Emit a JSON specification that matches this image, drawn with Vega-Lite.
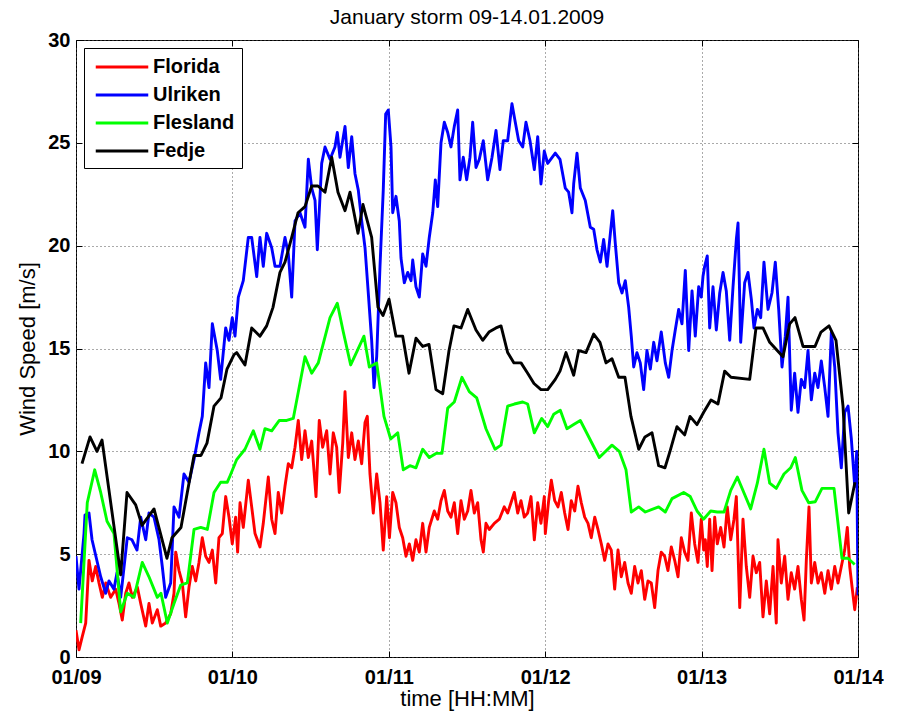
{
"$schema":"https://vega.github.io/schema/vega-lite/v6.json",
"autosize":"none",
"width":782,"height":617,
"padding":{"left":76,"top":40,"right":47,"bottom":58},
"background":"white",
"title":{"text":"January storm 09-14.01.2009","fontSize":21,"fontWeight":"normal","font":"Liberation Sans","color":"#000","offset":2,"anchor":"middle"},
"datasets":{"d":[
{"s":"Florida","t":0,"v":1.3},{"s":"Florida","t":0.46,"v":0.35},{"s":"Florida","t":0.97,"v":1.0},{"s":"Florida","t":1.49,"v":1.65},{"s":"Florida","t":1.99,"v":4.7},{"s":"Florida","t":2.5,"v":3.7},{"s":"Florida","t":3.02,"v":4.4},{"s":"Florida","t":3.53,"v":3.6},{"s":"Florida","t":4.04,"v":2.9},{"s":"Florida","t":4.56,"v":3.6},{"s":"Florida","t":5.32,"v":2.9},{"s":"Florida","t":6.09,"v":3.3},{"s":"Florida","t":6.6,"v":2.6},{"s":"Florida","t":7.1,"v":1.8},{"s":"Florida","t":7.63,"v":3.1},{"s":"Florida","t":8.13,"v":3.6},{"s":"Florida","t":8.64,"v":2.9},{"s":"Florida","t":9.41,"v":3.4},{"s":"Florida","t":9.93,"v":2.6},{"s":"Florida","t":10.7,"v":1.5},{"s":"Florida","t":11.2,"v":2.6},{"s":"Florida","t":11.71,"v":1.65},{"s":"Florida","t":12.48,"v":2.3},{"s":"Florida","t":13.0,"v":1.5},{"s":"Florida","t":13.76,"v":1.65},{"s":"Florida","t":14.53,"v":2.1},{"s":"Florida","t":15.04,"v":3.1},{"s":"Florida","t":15.3,"v":5.1},{"s":"Florida","t":15.81,"v":4.2},{"s":"Florida","t":16.31,"v":3.6},{"s":"Florida","t":16.83,"v":1.95},{"s":"Florida","t":17.34,"v":3.4},{"s":"Florida","t":17.85,"v":4.4},{"s":"Florida","t":18.37,"v":3.7},{"s":"Florida","t":18.87,"v":4.6},{"s":"Florida","t":19.38,"v":5.8},{"s":"Florida","t":19.9,"v":4.9},{"s":"Florida","t":20.41,"v":4.6},{"s":"Florida","t":20.92,"v":5.2},{"s":"Florida","t":21.44,"v":3.6},{"s":"Florida","t":21.94,"v":5.8},{"s":"Florida","t":22.45,"v":6.0},{"s":"Florida","t":22.97,"v":7.8},{"s":"Florida","t":23.48,"v":6.8},{"s":"Florida","t":23.98,"v":5.5},{"s":"Florida","t":24.5,"v":6.8},{"s":"Florida","t":24.8,"v":5.1},{"s":"Florida","t":25.17,"v":7.5},{"s":"Florida","t":25.67,"v":6.3},{"s":"Florida","t":26.44,"v":8.6},{"s":"Florida","t":26.96,"v":7.3},{"s":"Florida","t":27.47,"v":6.0},{"s":"Florida","t":28.23,"v":5.35},{"s":"Florida","t":28.74,"v":6.5},{"s":"Florida","t":29.51,"v":8.75},{"s":"Florida","t":30.03,"v":6.7},{"s":"Florida","t":30.54,"v":6.0},{"s":"Florida","t":31.04,"v":8.0},{"s":"Florida","t":31.56,"v":7.0},{"s":"Florida","t":32.07,"v":8.3},{"s":"Florida","t":32.58,"v":9.4},{"s":"Florida","t":33.1,"v":9.2},{"s":"Florida","t":33.61,"v":10.2},{"s":"Florida","t":34.11,"v":11.5},{"s":"Florida","t":34.63,"v":9.6},{"s":"Florida","t":35.14,"v":11.0},{"s":"Florida","t":35.65,"v":9.7},{"s":"Florida","t":36.17,"v":10.5},{"s":"Florida","t":36.83,"v":7.8},{"s":"Florida","t":37.33,"v":11.5},{"s":"Florida","t":37.85,"v":10.2},{"s":"Florida","t":38.47,"v":11.0},{"s":"Florida","t":38.98,"v":8.9},{"s":"Florida","t":39.48,"v":10.9},{"s":"Florida","t":40.0,"v":10.2},{"s":"Florida","t":40.4,"v":8.0},{"s":"Florida","t":40.93,"v":10.4},{"s":"Florida","t":41.28,"v":12.9},{"s":"Florida","t":41.79,"v":9.7},{"s":"Florida","t":42.31,"v":10.9},{"s":"Florida","t":42.81,"v":9.6},{"s":"Florida","t":43.32,"v":10.5},{"s":"Florida","t":43.84,"v":9.4},{"s":"Florida","t":44.35,"v":11.4},{"s":"Florida","t":44.7,"v":11.7},{"s":"Florida","t":45.11,"v":8.9},{"s":"Florida","t":45.62,"v":7.0},{"s":"Florida","t":46.14,"v":8.9},{"s":"Florida","t":46.65,"v":7.5},{"s":"Florida","t":47.15,"v":5.2},{"s":"Florida","t":47.68,"v":7.8},{"s":"Florida","t":48.1,"v":5.8},{"s":"Florida","t":48.6,"v":8.0},{"s":"Florida","t":49.1,"v":7.5},{"s":"Florida","t":49.61,"v":6.3},{"s":"Florida","t":50.13,"v":5.8},{"s":"Florida","t":50.64,"v":4.9},{"s":"Florida","t":51.15,"v":5.5},{"s":"Florida","t":51.67,"v":4.7},{"s":"Florida","t":52.17,"v":5.7},{"s":"Florida","t":52.68,"v":5.1},{"s":"Florida","t":53.2,"v":6.5},{"s":"Florida","t":53.71,"v":5.1},{"s":"Florida","t":54.21,"v":6.3},{"s":"Florida","t":54.98,"v":7.1},{"s":"Florida","t":55.5,"v":6.7},{"s":"Florida","t":56.01,"v":7.6},{"s":"Florida","t":56.52,"v":8.1},{"s":"Florida","t":57.04,"v":7.1},{"s":"Florida","t":57.54,"v":6.8},{"s":"Florida","t":58.05,"v":7.5},{"s":"Florida","t":58.57,"v":6.0},{"s":"Florida","t":59.08,"v":7.6},{"s":"Florida","t":59.59,"v":6.7},{"s":"Florida","t":60.11,"v":7.1},{"s":"Florida","t":60.61,"v":8.1},{"s":"Florida","t":61.12,"v":7.0},{"s":"Florida","t":61.64,"v":7.5},{"s":"Florida","t":62.15,"v":5.7},{"s":"Florida","t":62.5,"v":5.1},{"s":"Florida","t":62.91,"v":6.5},{"s":"Florida","t":63.42,"v":6.2},{"s":"Florida","t":64.19,"v":6.5},{"s":"Florida","t":64.96,"v":6.7},{"s":"Florida","t":65.72,"v":7.3},{"s":"Florida","t":66.24,"v":7.0},{"s":"Florida","t":66.75,"v":7.5},{"s":"Florida","t":67.26,"v":8.0},{"s":"Florida","t":67.78,"v":7.0},{"s":"Florida","t":68.29,"v":7.6},{"s":"Florida","t":68.79,"v":6.8},{"s":"Florida","t":69.31,"v":7.0},{"s":"Florida","t":69.82,"v":7.8},{"s":"Florida","t":70.33,"v":5.7},{"s":"Florida","t":70.85,"v":7.5},{"s":"Florida","t":71.35,"v":6.5},{"s":"Florida","t":71.86,"v":7.8},{"s":"Florida","t":72.02,"v":6.0},{"s":"Florida","t":72.53,"v":7.6},{"s":"Florida","t":72.94,"v":8.6},{"s":"Florida","t":73.46,"v":7.6},{"s":"Florida","t":73.96,"v":7.3},{"s":"Florida","t":74.47,"v":8.0},{"s":"Florida","t":74.99,"v":7.0},{"s":"Florida","t":75.5,"v":6.2},{"s":"Florida","t":76.0,"v":7.6},{"s":"Florida","t":76.53,"v":7.1},{"s":"Florida","t":77.03,"v":8.3},{"s":"Florida","t":77.54,"v":7.5},{"s":"Florida","t":78.06,"v":6.8},{"s":"Florida","t":78.57,"v":6.5},{"s":"Florida","t":79.07,"v":5.8},{"s":"Florida","t":79.6,"v":6.8},{"s":"Florida","t":80.1,"v":6.2},{"s":"Florida","t":80.61,"v":5.5},{"s":"Florida","t":81.13,"v":4.7},{"s":"Florida","t":81.64,"v":5.5},{"s":"Florida","t":82.14,"v":5.2},{"s":"Florida","t":82.66,"v":3.3},{"s":"Florida","t":83.17,"v":5.2},{"s":"Florida","t":83.68,"v":3.9},{"s":"Florida","t":84.2,"v":4.6},{"s":"Florida","t":84.71,"v":3.6},{"s":"Florida","t":85.21,"v":3.1},{"s":"Florida","t":85.73,"v":4.4},{"s":"Florida","t":86.24,"v":3.6},{"s":"Florida","t":86.75,"v":4.2},{"s":"Florida","t":87.27,"v":2.8},{"s":"Florida","t":87.77,"v":3.7},{"s":"Florida","t":88.28,"v":3.6},{"s":"Florida","t":88.8,"v":2.4},{"s":"Florida","t":89.31,"v":4.2},{"s":"Florida","t":89.81,"v":5.1},{"s":"Florida","t":90.33,"v":4.9},{"s":"Florida","t":90.84,"v":4.2},{"s":"Florida","t":91.35,"v":5.35},{"s":"Florida","t":91.87,"v":4.7},{"s":"Florida","t":92.38,"v":3.9},{"s":"Florida","t":92.89,"v":5.8},{"s":"Florida","t":93.4,"v":5.1},{"s":"Florida","t":93.91,"v":4.7},{"s":"Florida","t":94.42,"v":7.0},{"s":"Florida","t":94.94,"v":5.5},{"s":"Florida","t":95.45,"v":4.6},{"s":"Florida","t":95.95,"v":6.7},{"s":"Florida","t":96.32,"v":5.2},{"s":"Florida","t":96.57,"v":5.7},{"s":"Florida","t":96.87,"v":4.4},{"s":"Florida","t":97.24,"v":6.7},{"s":"Florida","t":97.6,"v":4.2},{"s":"Florida","t":98.01,"v":6.8},{"s":"Florida","t":98.41,"v":5.5},{"s":"Florida","t":98.93,"v":6.3},{"s":"Florida","t":99.44,"v":5.35},{"s":"Florida","t":99.94,"v":7.3},{"s":"Florida","t":100.47,"v":5.7},{"s":"Florida","t":100.97,"v":6.7},{"s":"Florida","t":101.33,"v":7.8},{"s":"Florida","t":101.85,"v":2.4},{"s":"Florida","t":102.35,"v":6.7},{"s":"Florida","t":102.86,"v":4.4},{"s":"Florida","t":103.38,"v":2.9},{"s":"Florida","t":103.89,"v":4.9},{"s":"Florida","t":104.39,"v":4.1},{"s":"Florida","t":104.91,"v":4.6},{"s":"Florida","t":105.42,"v":1.95},{"s":"Florida","t":105.93,"v":3.7},{"s":"Florida","t":106.45,"v":2.1},{"s":"Florida","t":106.96,"v":4.4},{"s":"Florida","t":107.46,"v":1.65},{"s":"Florida","t":107.72,"v":5.7},{"s":"Florida","t":108.23,"v":3.6},{"s":"Florida","t":108.75,"v":4.9},{"s":"Florida","t":109.26,"v":2.8},{"s":"Florida","t":109.76,"v":4.1},{"s":"Florida","t":110.28,"v":3.3},{"s":"Florida","t":110.79,"v":4.4},{"s":"Florida","t":111.3,"v":2.8},{"s":"Florida","t":111.72,"v":1.8},{"s":"Florida","t":112.07,"v":4.7},{"s":"Florida","t":112.48,"v":7.3},{"s":"Florida","t":112.84,"v":3.6},{"s":"Florida","t":113.36,"v":4.6},{"s":"Florida","t":113.86,"v":3.6},{"s":"Florida","t":114.37,"v":4.1},{"s":"Florida","t":114.9,"v":3.1},{"s":"Florida","t":115.4,"v":4.2},{"s":"Florida","t":115.91,"v":3.3},{"s":"Florida","t":116.43,"v":4.4},{"s":"Florida","t":116.93,"v":3.6},{"s":"Florida","t":117.44,"v":4.4},{"s":"Florida","t":117.96,"v":5.2},{"s":"Florida","t":118.36,"v":6.3},{"s":"Florida","t":118.73,"v":4.4},{"s":"Florida","t":119.09,"v":3.4},{"s":"Florida","t":119.5,"v":2.3},{"s":"Florida","t":119.9,"v":3.4},
{"s":"Ulriken","t":0,"v":4.9},{"s":"Ulriken","t":0.46,"v":3.3},{"s":"Ulriken","t":1.23,"v":6.0},{"s":"Ulriken","t":1.38,"v":6.9},{"s":"Ulriken","t":1.99,"v":7.0},{"s":"Ulriken","t":2.46,"v":5.7},{"s":"Ulriken","t":3.79,"v":3.9},{"s":"Ulriken","t":4.56,"v":3.1},{"s":"Ulriken","t":5.06,"v":3.7},{"s":"Ulriken","t":5.83,"v":3.3},{"s":"Ulriken","t":6.29,"v":4.1},{"s":"Ulriken","t":6.86,"v":2.9},{"s":"Ulriken","t":7.87,"v":5.8},{"s":"Ulriken","t":8.59,"v":5.7},{"s":"Ulriken","t":9.36,"v":5.2},{"s":"Ulriken","t":9.93,"v":6.8},{"s":"Ulriken","t":10.7,"v":5.7},{"s":"Ulriken","t":11.2,"v":7.0},{"s":"Ulriken","t":11.97,"v":6.8},{"s":"Ulriken","t":12.74,"v":5.7},{"s":"Ulriken","t":13.24,"v":4.4},{"s":"Ulriken","t":13.76,"v":2.9},{"s":"Ulriken","t":14.53,"v":3.6},{"s":"Ulriken","t":15.04,"v":7.3},{"s":"Ulriken","t":15.81,"v":6.8},{"s":"Ulriken","t":16.57,"v":8.9},{"s":"Ulriken","t":17.34,"v":8.5},{"s":"Ulriken","t":18.11,"v":9.6},{"s":"Ulriken","t":18.87,"v":10.9},{"s":"Ulriken","t":19.38,"v":11.7},{"s":"Ulriken","t":19.9,"v":14.3},{"s":"Ulriken","t":20.41,"v":13.1},{"s":"Ulriken","t":20.92,"v":16.2},{"s":"Ulriken","t":21.68,"v":14.9},{"s":"Ulriken","t":22.2,"v":13.5},{"s":"Ulriken","t":22.97,"v":16.0},{"s":"Ulriken","t":23.48,"v":15.4},{"s":"Ulriken","t":23.98,"v":16.5},{"s":"Ulriken","t":24.4,"v":15.6},{"s":"Ulriken","t":24.91,"v":17.5},{"s":"Ulriken","t":25.67,"v":18.3},{"s":"Ulriken","t":26.44,"v":20.4},{"s":"Ulriken","t":26.96,"v":20.4},{"s":"Ulriken","t":27.73,"v":18.5},{"s":"Ulriken","t":28.23,"v":20.4},{"s":"Ulriken","t":28.74,"v":19.0},{"s":"Ulriken","t":29.26,"v":20.6},{"s":"Ulriken","t":30.03,"v":19.9},{"s":"Ulriken","t":30.54,"v":19.0},{"s":"Ulriken","t":31.3,"v":19.0},{"s":"Ulriken","t":32.07,"v":20.4},{"s":"Ulriken","t":32.58,"v":19.6},{"s":"Ulriken","t":33.1,"v":17.5},{"s":"Ulriken","t":33.61,"v":21.2},{"s":"Ulriken","t":34.37,"v":21.6},{"s":"Ulriken","t":35.14,"v":20.9},{"s":"Ulriken","t":35.65,"v":24.2},{"s":"Ulriken","t":36.17,"v":22.8},{"s":"Ulriken","t":36.68,"v":22.2},{"s":"Ulriken","t":37.03,"v":19.8},{"s":"Ulriken","t":37.7,"v":24.0},{"s":"Ulriken","t":38.21,"v":24.8},{"s":"Ulriken","t":38.98,"v":24.2},{"s":"Ulriken","t":39.74,"v":24.8},{"s":"Ulriken","t":40.1,"v":25.5},{"s":"Ulriken","t":40.51,"v":24.3},{"s":"Ulriken","t":41.28,"v":25.8},{"s":"Ulriken","t":41.79,"v":23.8},{"s":"Ulriken","t":42.31,"v":25.3},{"s":"Ulriken","t":42.81,"v":23.5},{"s":"Ulriken","t":43.32,"v":22.7},{"s":"Ulriken","t":43.84,"v":21.2},{"s":"Ulriken","t":44.35,"v":19.9},{"s":"Ulriken","t":44.85,"v":17.7},{"s":"Ulriken","t":45.37,"v":15.4},{"s":"Ulriken","t":45.73,"v":13.1},{"s":"Ulriken","t":46.14,"v":14.6},{"s":"Ulriken","t":46.65,"v":19.0},{"s":"Ulriken","t":47.15,"v":22.7},{"s":"Ulriken","t":47.52,"v":26.4},{"s":"Ulriken","t":47.92,"v":26.6},{"s":"Ulriken","t":48.34,"v":24.8},{"s":"Ulriken","t":48.6,"v":21.6},{"s":"Ulriken","t":49.1,"v":22.4},{"s":"Ulriken","t":49.61,"v":21.2},{"s":"Ulriken","t":49.87,"v":19.4},{"s":"Ulriken","t":50.38,"v":18.2},{"s":"Ulriken","t":50.9,"v":18.7},{"s":"Ulriken","t":51.41,"v":18.3},{"s":"Ulriken","t":51.67,"v":19.3},{"s":"Ulriken","t":52.17,"v":18.0},{"s":"Ulriken","t":52.68,"v":17.5},{"s":"Ulriken","t":53.2,"v":19.6},{"s":"Ulriken","t":53.71,"v":19.0},{"s":"Ulriken","t":54.21,"v":20.4},{"s":"Ulriken","t":54.74,"v":21.6},{"s":"Ulriken","t":55.14,"v":23.2},{"s":"Ulriken","t":55.5,"v":21.9},{"s":"Ulriken","t":56.01,"v":25.0},{"s":"Ulriken","t":56.52,"v":26.0},{"s":"Ulriken","t":57.04,"v":25.5},{"s":"Ulriken","t":57.54,"v":24.8},{"s":"Ulriken","t":58.05,"v":25.8},{"s":"Ulriken","t":58.57,"v":26.6},{"s":"Ulriken","t":58.92,"v":23.2},{"s":"Ulriken","t":59.43,"v":24.3},{"s":"Ulriken","t":59.95,"v":23.2},{"s":"Ulriken","t":60.46,"v":24.3},{"s":"Ulriken","t":60.87,"v":26.0},{"s":"Ulriken","t":61.38,"v":23.8},{"s":"Ulriken","t":61.89,"v":24.2},{"s":"Ulriken","t":62.5,"v":25.1},{"s":"Ulriken","t":63.17,"v":23.2},{"s":"Ulriken","t":63.84,"v":24.3},{"s":"Ulriken","t":64.45,"v":25.6},{"s":"Ulriken","t":65.06,"v":23.7},{"s":"Ulriken","t":65.57,"v":25.1},{"s":"Ulriken","t":66.24,"v":25.1},{"s":"Ulriken","t":66.9,"v":26.9},{"s":"Ulriken","t":67.41,"v":26.0},{"s":"Ulriken","t":67.93,"v":25.1},{"s":"Ulriken","t":68.55,"v":24.8},{"s":"Ulriken","t":69.05,"v":26.0},{"s":"Ulriken","t":69.67,"v":25.1},{"s":"Ulriken","t":70.33,"v":23.7},{"s":"Ulriken","t":70.85,"v":25.3},{"s":"Ulriken","t":71.35,"v":23.0},{"s":"Ulriken","t":71.86,"v":24.6},{"s":"Ulriken","t":72.38,"v":24.0},{"s":"Ulriken","t":73.55,"v":24.5},{"s":"Ulriken","t":74.27,"v":24.2},{"s":"Ulriken","t":75.08,"v":22.8},{"s":"Ulriken","t":75.6,"v":22.6},{"s":"Ulriken","t":76.11,"v":21.6},{"s":"Ulriken","t":76.37,"v":23.0},{"s":"Ulriken","t":76.88,"v":24.5},{"s":"Ulriken","t":77.39,"v":22.8},{"s":"Ulriken","t":78.15,"v":22.2},{"s":"Ulriken","t":78.92,"v":20.9},{"s":"Ulriken","t":79.44,"v":20.8},{"s":"Ulriken","t":79.95,"v":19.8},{"s":"Ulriken","t":80.46,"v":19.2},{"s":"Ulriken","t":80.97,"v":20.3},{"s":"Ulriken","t":81.49,"v":19.0},{"s":"Ulriken","t":82.0,"v":20.6},{"s":"Ulriken","t":82.36,"v":21.7},{"s":"Ulriken","t":82.76,"v":20.1},{"s":"Ulriken","t":83.28,"v":18.2},{"s":"Ulriken","t":83.79,"v":17.7},{"s":"Ulriken","t":84.29,"v":18.3},{"s":"Ulriken","t":84.81,"v":17.0},{"s":"Ulriken","t":85.21,"v":15.6},{"s":"Ulriken","t":85.58,"v":14.1},{"s":"Ulriken","t":86.08,"v":14.8},{"s":"Ulriken","t":86.59,"v":14.3},{"s":"Ulriken","t":87.11,"v":13.0},{"s":"Ulriken","t":87.61,"v":14.9},{"s":"Ulriken","t":88.13,"v":14.0},{"s":"Ulriken","t":88.65,"v":15.3},{"s":"Ulriken","t":89.15,"v":14.4},{"s":"Ulriken","t":89.81,"v":15.8},{"s":"Ulriken","t":90.43,"v":14.3},{"s":"Ulriken","t":90.95,"v":13.6},{"s":"Ulriken","t":91.46,"v":14.9},{"s":"Ulriken","t":91.96,"v":15.9},{"s":"Ulriken","t":92.48,"v":16.9},{"s":"Ulriken","t":92.99,"v":16.2},{"s":"Ulriken","t":93.5,"v":18.8},{"s":"Ulriken","t":94.02,"v":14.9},{"s":"Ulriken","t":94.53,"v":17.8},{"s":"Ulriken","t":95.03,"v":15.6},{"s":"Ulriken","t":95.55,"v":18.0},{"s":"Ulriken","t":95.95,"v":17.5},{"s":"Ulriken","t":96.21,"v":18.5},{"s":"Ulriken","t":96.47,"v":19.0},{"s":"Ulriken","t":96.87,"v":19.5},{"s":"Ulriken","t":97.24,"v":16.0},{"s":"Ulriken","t":97.75,"v":18.0},{"s":"Ulriken","t":98.26,"v":15.9},{"s":"Ulriken","t":98.78,"v":17.7},{"s":"Ulriken","t":99.29,"v":18.7},{"s":"Ulriken","t":99.79,"v":17.8},{"s":"Ulriken","t":100.31,"v":15.4},{"s":"Ulriken","t":100.82,"v":18.0},{"s":"Ulriken","t":101.33,"v":20.3},{"s":"Ulriken","t":101.59,"v":21.1},{"s":"Ulriken","t":102.0,"v":15.3},{"s":"Ulriken","t":102.61,"v":18.2},{"s":"Ulriken","t":103.12,"v":18.7},{"s":"Ulriken","t":103.63,"v":17.4},{"s":"Ulriken","t":104.04,"v":16.0},{"s":"Ulriken","t":104.55,"v":16.9},{"s":"Ulriken","t":105.07,"v":16.5},{"s":"Ulriken","t":105.57,"v":19.2},{"s":"Ulriken","t":106.19,"v":16.9},{"s":"Ulriken","t":106.8,"v":17.7},{"s":"Ulriken","t":107.31,"v":19.2},{"s":"Ulriken","t":107.83,"v":16.9},{"s":"Ulriken","t":108.34,"v":14.1},{"s":"Ulriken","t":108.84,"v":15.6},{"s":"Ulriken","t":109.26,"v":17.5},{"s":"Ulriken","t":109.76,"v":12.0},{"s":"Ulriken","t":110.28,"v":13.8},{"s":"Ulriken","t":110.79,"v":11.9},{"s":"Ulriken","t":111.3,"v":13.5},{"s":"Ulriken","t":111.82,"v":13.1},{"s":"Ulriken","t":112.33,"v":14.9},{"s":"Ulriken","t":112.84,"v":12.5},{"s":"Ulriken","t":113.36,"v":13.8},{"s":"Ulriken","t":113.86,"v":13.1},{"s":"Ulriken","t":114.37,"v":14.4},{"s":"Ulriken","t":114.9,"v":13.1},{"s":"Ulriken","t":115.4,"v":11.7},{"s":"Ulriken","t":115.91,"v":15.8},{"s":"Ulriken","t":116.43,"v":14.1},{"s":"Ulriken","t":116.93,"v":10.9},{"s":"Ulriken","t":117.44,"v":9.2},{"s":"Ulriken","t":117.96,"v":11.9},{"s":"Ulriken","t":118.47,"v":12.2},{"s":"Ulriken","t":118.98,"v":10.6},{"s":"Ulriken","t":119.5,"v":8.3},{"s":"Ulriken","t":119.8,"v":10.0},{"s":"Ulriken","t":120,"v":3.0},
{"s":"Flesland","t":0.72,"v":1.65},{"s":"Flesland","t":1.73,"v":7.5},{"s":"Flesland","t":2.87,"v":9.1},{"s":"Flesland","t":3.79,"v":8.0},{"s":"Flesland","t":4.76,"v":6.6},{"s":"Flesland","t":5.83,"v":6.0},{"s":"Flesland","t":6.86,"v":2.2},{"s":"Flesland","t":7.87,"v":3.1},{"s":"Flesland","t":8.9,"v":2.9},{"s":"Flesland","t":10.17,"v":4.6},{"s":"Flesland","t":11.2,"v":3.9},{"s":"Flesland","t":12.48,"v":2.9},{"s":"Flesland","t":13.04,"v":3.1},{"s":"Flesland","t":14.01,"v":1.65},{"s":"Flesland","t":15.04,"v":2.6},{"s":"Flesland","t":16.07,"v":3.5},{"s":"Flesland","t":17.08,"v":3.6},{"s":"Flesland","t":18.11,"v":6.2},{"s":"Flesland","t":19.14,"v":6.3},{"s":"Flesland","t":20.15,"v":6.2},{"s":"Flesland","t":21.18,"v":8.0},{"s":"Flesland","t":22.2,"v":8.5},{"s":"Flesland","t":23.22,"v":8.5},{"s":"Flesland","t":23.63,"v":8.8},{"s":"Flesland","t":24.66,"v":9.6},{"s":"Flesland","t":25.93,"v":10.1},{"s":"Flesland","t":27.21,"v":11.0},{"s":"Flesland","t":28.23,"v":10.1},{"s":"Flesland","t":29.0,"v":11.1},{"s":"Flesland","t":30.03,"v":11.0},{"s":"Flesland","t":31.2,"v":11.5},{"s":"Flesland","t":32.33,"v":11.5},{"s":"Flesland","t":33.34,"v":11.6},{"s":"Flesland","t":35.14,"v":14.6},{"s":"Flesland","t":36.17,"v":13.8},{"s":"Flesland","t":37.18,"v":14.3},{"s":"Flesland","t":38.98,"v":16.5},{"s":"Flesland","t":40.1,"v":17.2},{"s":"Flesland","t":41.02,"v":15.8},{"s":"Flesland","t":42.15,"v":14.2},{"s":"Flesland","t":43.17,"v":14.9},{"s":"Flesland","t":44.19,"v":15.6},{"s":"Flesland","t":45.01,"v":14.1},{"s":"Flesland","t":46.14,"v":14.3},{"s":"Flesland","t":47.26,"v":11.7},{"s":"Flesland","t":48.29,"v":10.6},{"s":"Flesland","t":49.37,"v":10.9},{"s":"Flesland","t":50.22,"v":9.1},{"s":"Flesland","t":51.25,"v":9.3},{"s":"Flesland","t":52.17,"v":9.2},{"s":"Flesland","t":53.2,"v":10.1},{"s":"Flesland","t":54.21,"v":9.7},{"s":"Flesland","t":55.24,"v":9.9},{"s":"Flesland","t":56.16,"v":9.9},{"s":"Flesland","t":57.04,"v":12.1},{"s":"Flesland","t":58.05,"v":12.4},{"s":"Flesland","t":59.23,"v":13.6},{"s":"Flesland","t":60.35,"v":12.9},{"s":"Flesland","t":61.49,"v":12.6},{"s":"Flesland","t":62.91,"v":11.1},{"s":"Flesland","t":64.3,"v":10.1},{"s":"Flesland","t":65.22,"v":10.3},{"s":"Flesland","t":66.24,"v":12.2},{"s":"Flesland","t":67.26,"v":12.3},{"s":"Flesland","t":68.55,"v":12.4},{"s":"Flesland","t":69.31,"v":12.3},{"s":"Flesland","t":70.33,"v":10.9},{"s":"Flesland","t":71.46,"v":11.6},{"s":"Flesland","t":72.38,"v":11.2},{"s":"Flesland","t":73.3,"v":11.8},{"s":"Flesland","t":74.32,"v":12.0},{"s":"Flesland","t":75.34,"v":11.1},{"s":"Flesland","t":76.37,"v":11.3},{"s":"Flesland","t":77.39,"v":11.5},{"s":"Flesland","t":80.3,"v":9.7},{"s":"Flesland","t":82.25,"v":10.3},{"s":"Flesland","t":83.37,"v":10.0},{"s":"Flesland","t":84.4,"v":9.1},{"s":"Flesland","t":85.21,"v":7.05},{"s":"Flesland","t":86.35,"v":7.3},{"s":"Flesland","t":87.36,"v":7.05},{"s":"Flesland","t":89.41,"v":7.3},{"s":"Flesland","t":90.43,"v":7.05},{"s":"Flesland","t":91.46,"v":7.7},{"s":"Flesland","t":93.25,"v":8.0},{"s":"Flesland","t":94.26,"v":7.8},{"s":"Flesland","t":95.3,"v":7.1},{"s":"Flesland","t":96.3,"v":6.7},{"s":"Flesland","t":97.4,"v":7.1},{"s":"Flesland","t":98.41,"v":7.05},{"s":"Flesland","t":99.44,"v":7.05},{"s":"Flesland","t":100.47,"v":8.1},{"s":"Flesland","t":101.48,"v":8.75},{"s":"Flesland","t":103.53,"v":7.2},{"s":"Flesland","t":104.55,"v":8.45},{"s":"Flesland","t":105.57,"v":10.1},{"s":"Flesland","t":106.45,"v":8.45},{"s":"Flesland","t":107.46,"v":8.2},{"s":"Flesland","t":108.64,"v":8.9},{"s":"Flesland","t":109.67,"v":9.2},{"s":"Flesland","t":110.38,"v":9.7},{"s":"Flesland","t":111.4,"v":8.1},{"s":"Flesland","t":112.43,"v":7.5},{"s":"Flesland","t":113.45,"v":7.55},{"s":"Flesland","t":114.47,"v":8.2},{"s":"Flesland","t":116.32,"v":8.2},{"s":"Flesland","t":117.54,"v":4.8},{"s":"Flesland","t":118.46,"v":4.8},{"s":"Flesland","t":119.49,"v":4.5},
{"s":"Fedje","t":0.92,"v":9.4},{"s":"Fedje","t":2.15,"v":10.7},{"s":"Fedje","t":3.22,"v":10.0},{"s":"Fedje","t":3.99,"v":10.55},{"s":"Fedje","t":6.86,"v":4.0},{"s":"Fedje","t":7.83,"v":8.0},{"s":"Fedje","t":9.16,"v":7.4},{"s":"Fedje","t":10.13,"v":6.4},{"s":"Fedje","t":11.97,"v":7.2},{"s":"Fedje","t":13.96,"v":4.8},{"s":"Fedje","t":14.73,"v":5.8},{"s":"Fedje","t":16.11,"v":6.3},{"s":"Fedje","t":18.11,"v":9.8},{"s":"Fedje","t":19.18,"v":9.8},{"s":"Fedje","t":20.1,"v":10.4},{"s":"Fedje","t":21.18,"v":12.2},{"s":"Fedje","t":22.25,"v":12.6},{"s":"Fedje","t":23.17,"v":14.0},{"s":"Fedje","t":24.25,"v":14.7},{"s":"Fedje","t":24.66,"v":14.8},{"s":"Fedje","t":25.93,"v":14.2},{"s":"Fedje","t":26.96,"v":16.0},{"s":"Fedje","t":28.23,"v":15.6},{"s":"Fedje","t":29.26,"v":16.1},{"s":"Fedje","t":30.23,"v":17.0},{"s":"Fedje","t":31.3,"v":18.7},{"s":"Fedje","t":32.07,"v":19.2},{"s":"Fedje","t":33.1,"v":20.4},{"s":"Fedje","t":34.07,"v":21.6},{"s":"Fedje","t":35.14,"v":21.9},{"s":"Fedje","t":36.17,"v":22.9},{"s":"Fedje","t":37.13,"v":22.9},{"s":"Fedje","t":38.21,"v":22.6},{"s":"Fedje","t":39.24,"v":24.3},{"s":"Fedje","t":40.2,"v":22.6},{"s":"Fedje","t":41.28,"v":21.7},{"s":"Fedje","t":42.05,"v":22.6},{"s":"Fedje","t":43.27,"v":20.6},{"s":"Fedje","t":44.04,"v":22.0},{"s":"Fedje","t":45.37,"v":20.4},{"s":"Fedje","t":46.34,"v":17.0},{"s":"Fedje","t":47.11,"v":16.6},{"s":"Fedje","t":48.03,"v":17.4},{"s":"Fedje","t":49.1,"v":15.6},{"s":"Fedje","t":50.13,"v":15.6},{"s":"Fedje","t":51.1,"v":13.8},{"s":"Fedje","t":52.17,"v":15.5},{"s":"Fedje","t":53.2,"v":15.1},{"s":"Fedje","t":54.17,"v":15.2},{"s":"Fedje","t":55.24,"v":13.0},{"s":"Fedje","t":56.27,"v":12.8},{"s":"Fedje","t":57.24,"v":14.9},{"s":"Fedje","t":58.0,"v":16.1},{"s":"Fedje","t":59.08,"v":16.0},{"s":"Fedje","t":60.11,"v":16.9},{"s":"Fedje","t":61.38,"v":15.9},{"s":"Fedje","t":62.41,"v":15.4},{"s":"Fedje","t":63.37,"v":15.8},{"s":"Fedje","t":64.45,"v":16.0},{"s":"Fedje","t":65.22,"v":16.1},{"s":"Fedje","t":66.24,"v":14.8},{"s":"Fedje","t":67.21,"v":14.3},{"s":"Fedje","t":68.29,"v":14.3},{"s":"Fedje","t":69.31,"v":13.8},{"s":"Fedje","t":70.28,"v":13.3},{"s":"Fedje","t":71.35,"v":13.0},{"s":"Fedje","t":72.38,"v":13.0},{"s":"Fedje","t":73.55,"v":13.5},{"s":"Fedje","t":74.27,"v":13.9},{"s":"Fedje","t":75.19,"v":14.8},{"s":"Fedje","t":76.37,"v":13.7},{"s":"Fedje","t":77.14,"v":14.9},{"s":"Fedje","t":78.26,"v":14.8},{"s":"Fedje","t":79.44,"v":15.7},{"s":"Fedje","t":80.41,"v":15.3},{"s":"Fedje","t":81.33,"v":14.3},{"s":"Fedje","t":82.25,"v":14.5},{"s":"Fedje","t":83.28,"v":13.6},{"s":"Fedje","t":84.24,"v":13.6},{"s":"Fedje","t":85.16,"v":11.7},{"s":"Fedje","t":86.35,"v":10.1},{"s":"Fedje","t":87.31,"v":10.7},{"s":"Fedje","t":88.39,"v":10.9},{"s":"Fedje","t":89.41,"v":9.3},{"s":"Fedje","t":90.38,"v":9.2},{"s":"Fedje","t":91.15,"v":10.0},{"s":"Fedje","t":92.22,"v":11.2},{"s":"Fedje","t":93.4,"v":10.8},{"s":"Fedje","t":94.22,"v":11.7},{"s":"Fedje","t":95.29,"v":11.3},{"s":"Fedje","t":96.32,"v":11.9},{"s":"Fedje","t":97.44,"v":12.5},{"s":"Fedje","t":98.51,"v":12.3},{"s":"Fedje","t":99.54,"v":13.9},{"s":"Fedje","t":100.51,"v":13.6},{"s":"Fedje","t":103.38,"v":13.5},{"s":"Fedje","t":104.35,"v":16.0},{"s":"Fedje","t":105.42,"v":16.0},{"s":"Fedje","t":106.45,"v":15.3},{"s":"Fedje","t":108.49,"v":14.6},{"s":"Fedje","t":109.52,"v":16.2},{"s":"Fedje","t":110.33,"v":16.5},{"s":"Fedje","t":111.56,"v":15.1},{"s":"Fedje","t":113.4,"v":15.1},{"s":"Fedje","t":114.32,"v":15.8},{"s":"Fedje","t":115.55,"v":16.1},{"s":"Fedje","t":116.62,"v":15.4},{"s":"Fedje","t":117.7,"v":12.2},{"s":"Fedje","t":118.57,"v":7.0},{"s":"Fedje","t":119.54,"v":8.5}
]},
"data":{"name":"d"},
"layer":[
{"mark":{"type":"line","strokeWidth":2.9,"strokeJoin":"round","clip":true},
 "encoding":{
  "x":{"field":"t","type":"quantitative","scale":{"domain":[0,120],"nice":false,"zero":false},
   "axis":{"values":[0,24,48,72,96,120],"labelExpr":"['01/09','01/10','01/11','01/12','01/13','01/14'][round(datum.value/24)]","title":"time [HH:MM]","titleX":391,"titleY":41,"titleBaseline":"middle","labelPadding":16,"labelFlush":false}},
  "y":{"field":"v","type":"quantitative","scale":{"domain":[0,30],"nice":false},
   "axis":{"values":[0,5,10,15,20,25,30],"title":"Wind Speed [m/s]","titleX":-49,"titleY":308.5,"titleBaseline":"middle","labelPadding":12}},
  "color":{"field":"s","type":"nominal","scale":{"domain":["Florida","Ulriken","Flesland","Fedje"],"range":["#FF0000","#0000FF","#00FF00","#000000"]},
   "legend":{"title":null,"orient":"none","legendX":8,"legendY":8,"strokeColor":"#000","fillColor":"white","padding":7,"symbolType":"M-2.5,0H2.5","symbolSize":441,"symbolStrokeWidth":3,"symbolOffset":19,"labelOffset":19,"labelFontSize":20,"labelFontWeight":"bold","labelFont":"Liberation Sans","labelColor":"#000","rowPadding":6,"cornerRadius":0}},
  "order":{"field":"t","type":"quantitative"}
 }},
{"mark":{"type":"point","opacity":0},
 "encoding":{
  "x":{"field":"t","type":"quantitative","axis":{"orient":"top","values":[0,24,48,72,96,120],"labels":false,"grid":false,"title":null,"domain":false}},
  "y":{"field":"v","type":"quantitative","axis":{"orient":"right","values":[0,5,10,15,20,25,30],"labels":false,"grid":false,"title":null,"domain":false}}
 }}
],
"resolve":{"axis":{"x":"independent","y":"independent"}},
"config":{
 "font":"Liberation Sans",
 "view":{"stroke":"#000","strokeWidth":1},
 "axis":{"domain":false,"tickSize":-6,"tickColor":"#000","tickWidth":1,"gridColor":"#555","gridDash":[1,3],"gridWidth":1,"labelFont":"Liberation Sans","labelFontSize":20,"labelFontWeight":"bold","labelColor":"#000","titleFont":"Liberation Sans","titleFontSize":22,"titleFontWeight":"normal","titleColor":"#000"}
}
}
